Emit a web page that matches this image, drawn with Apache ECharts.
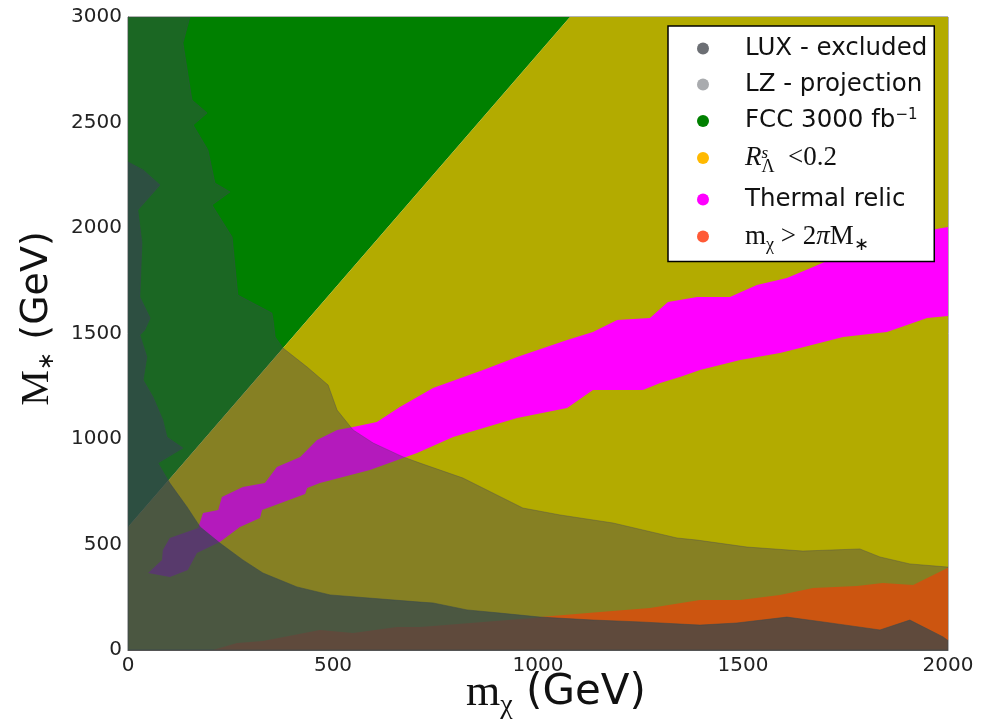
<!DOCTYPE html>
<html><head><meta charset="utf-8">
<script src="https://cdn.jsdelivr.net/npm/echarts@6/dist/echarts.min.js"></script>
<style>html,body{margin:0;padding:0;background:#fff}#c{width:991px;height:725px}</style>
</head><body><div id="c"></div>
<script>
// ---- data (GeV) ----
const xTicks = [0, 500, 1000, 1500, 2000];
const yTicks = [0, 500, 1000, 1500, 2000, 2500, 3000];
const seriesNames = ['LUX - excluded', 'LZ - projection', 'FCC 3000 fb-1', 'R_Lambda^s < 0.2', 'Thermal relic', 'm_chi > 2 pi M_*'];

// FCC 3000 fb^-1 reach (above the diagonal)
const fccRegion = [[0, 583], [1078, 3000], [0, 3000]];
// R_Lambda^s < 0.2 (below the diagonal)
const rLambdaRegion = [[0, 0], [0, 583], [1078, 3000], [2000, 3000], [2000, 0]];
// Thermal relic band
const thermalUpper = [[49,365],[83,427],[85,474],[102,531],[171,578],[183,649],[220,664],[229,725],[280,773],[334,791],[363,867],[420,915],[461,995],[510,1043],[549,1057],[607,1081],[663,1152],[744,1242],[866,1327],[949,1389],[1071,1469],[1134,1507],[1193,1564],[1273,1573],[1317,1649],[1388,1673],[1468,1673],[1534,1730],[1607,1763],[1671,1815],[1737,1872],[1802,1929],[1915,1976],[2000,2005]];
const thermalLower = [[49,365],[102,346],[146,379],[168,460],[224,512],[273,583],[322,626],[327,664],[432,739],[437,768],[468,791],[590,853],[671,910],[705,934],[793,1009],[949,1100],[1071,1147],[1134,1232],[1256,1232],[1298,1265],[1346,1294],[1395,1327],[1493,1374],[1590,1408],[1639,1431],[1744,1483],[1851,1507],[1949,1573],[2000,1583]];
// LZ projection boundary (excluded to the left / below)
const lzBoundary = [[151,3000],[134,2877],[156,2607],[193,2545],[159,2488],[195,2370],[212,2213],[249,2171],[205,2109],[254,1957],[268,1682],[351,1597],[354,1564],[359,1483],[378,1431],[437,1341],[488,1256],[510,1137],[549,1043],[598,981],[671,915],[712,886],[817,815],[963,673],[1054,640],[1183,602],[1339,531],[1388,521],[1510,488],[1646,469],[1785,479],[1834,441],[1907,408],[2000,393]];
// LUX excluded boundary
const luxBoundary = [[0,2313],[37,2275],[78,2204],[24,2085],[34,1929],[29,1673],[54,1573],[41,1517],[29,1493],[46,1389],[37,1280],[61,1199],[85,1090],[95,1009],[134,957],[73,886],[102,791],[144,678],[176,583],[224,507],[280,427],[329,365],[412,299],[493,261],[712,227],[744,223],[827,190],[907,175],[1005,156],[1134,142],[1249,133],[1395,118],[1485,128],[1607,156],[1695,133],[1834,95],[1907,142],[1988,62],[2000,45]];
// m_chi > 2 pi M_* boundary
const massBoundary = [[207,0],[266,33],[329,43],[468,95],[549,81],[656,109],[712,109],[744,114],[866,133],[988,152],[1005,156],[1151,180],[1273,199],[1395,237],[1493,237],[1590,261],[1671,294],[1778,303],[1841,318],[1915,308],[2000,390]];

// ---- polygons built from the data ----
const thermalRegion = thermalUpper.concat(thermalLower.slice(1).reverse());
const lzRegion = [[0, 3000]].concat(lzBoundary, [[2000, 0], [0, 0]]);
const luxRegion = luxBoundary.concat([[2000, 0], [0, 0]]);
const massRegion = massBoundary.concat([[2000, 0]]);

function polySeries(name, pts, fill, legendColor, z, stroke) {
  return {
    type: 'custom', name: name, z: z, clip: true, silent: true,
    coordinateSystem: 'cartesian2d',
    itemStyle: { color: legendColor },
    data: pts,
    renderItem: function (params, api) {
      if (params.dataIndex !== 0) return null;
      return {
        type: 'polygon',
        shape: { points: pts.map(function (p) { return api.coord(p); }) },
        style: { fill: fill, stroke: stroke || null, lineWidth: stroke ? 1 : 0 }
      };
    }
  };
}

const sans = 'DejaVu Sans';
const serif = 'Liberation Serif';
const legendFmt = {
  'LUX - excluded': '{sp|}{t|LUX - excluded}',
  'LZ - projection': '{sp|}{t|LZ - projection}',
  'FCC 3000 fb-1': '{sp|}{t|FCC 3000 fb}{sup|−1}',
  'R_Lambda^s < 0.2': '{sp|}{mi|R}{msup0|s}{msub|Λ}{m|  <0.2}',
  'Thermal relic': '{sp|}{t|Thermal relic}',
  'm_chi > 2 pi M_*': '{sp|}{m|m}{msub|χ}{m| > 2}{mi|π}{m|M}{msub|∗}'
};

const chart = echarts.init(document.getElementById('c'));
chart.setOption({
  animation: false,
  backgroundColor: '#ffffff',
  grid: { left: 128, right: 43, top: 17, bottom: 75, show: true, borderColor: '#666', borderWidth: 1, containLabel: false, outerBoundsMode: 'none' },
  xAxis: {
    type: 'value', min: xTicks[0], max: xTicks[xTicks.length - 1], interval: 500,
    axisLine: { show: true, lineStyle: { color: '#555', width: 1 } },
    axisTick: { show: false }, splitLine: { show: false },
    axisLabel: { fontFamily: sans, fontSize: 20, color: '#222', margin: 6, formatter: function (v) { return String(v); } },
    name: '{m|m}{sub|χ}{g| (GeV)}', nameLocation: 'middle', nameGap: 20, nameMoveOverlap: false,
    nameTextStyle: { padding: [0, 0, 0, 36], rich: {
      m: { fontFamily: serif, fontSize: 44, color: '#111', lineHeight: 46 },
      sub: { fontFamily: serif, fontSize: 28, color: '#111', verticalAlign: 'bottom', lineHeight: 28, padding: [0, 0, -4, 0] },
      g: { fontFamily: sans, fontSize: 42, color: '#111', lineHeight: 46 }
    } }
  },
  yAxis: {
    type: 'value', min: yTicks[0], max: yTicks[yTicks.length - 1], interval: 500,
    axisLine: { show: true, lineStyle: { color: '#555', width: 1 } },
    axisTick: { show: false }, splitLine: { show: false },
    axisLabel: { fontFamily: sans, fontSize: 20, color: '#222', margin: 6, formatter: function (v) { return String(v); } },
    name: '{m|M}{sub|∗}{g| (GeV)}', nameLocation: 'middle', nameGap: 70, nameRotate: 90,
    nameTextStyle: { padding: [0, 0, 0, 30], rich: {
      m: { fontFamily: serif, fontSize: 40, color: '#111', lineHeight: 42 },
      sub: { fontFamily: sans, fontSize: 22, color: '#111', verticalAlign: 'bottom', lineHeight: 22 },
      g: { fontFamily: sans, fontSize: 38, color: '#111', lineHeight: 42 }
    } }
  },
  legend: {
    orient: 'vertical', left: 668, top: 26, padding: [10, 7, 7, 29],
    itemWidth: 12, itemHeight: 12, itemGap: 11, icon: 'circle',
    selectedMode: false, backgroundColor: '#ffffff', borderColor: '#000', borderWidth: 1.5, borderRadius: 0,
    data: seriesNames.map(function (n) { return { name: n, icon: 'circle' }; }),
    formatter: function (n) { return legendFmt[n]; },
    textStyle: { color: '#111', rich: {
      sp: { width: 31, lineHeight: 26 },
      t: { fontFamily: sans, fontSize: 24.5, color: '#111', lineHeight: 26 },
      sup: { fontFamily: sans, fontSize: 15, color: '#111', verticalAlign: 'top', lineHeight: 12 },
      m: { fontFamily: serif, fontSize: 27, color: '#111', lineHeight: 22 },
      mi: { fontFamily: serif, fontSize: 27, fontStyle: 'italic', color: '#111', lineHeight: 22 },
      msub: { fontFamily: serif, fontSize: 18, color: '#111', verticalAlign: 'bottom', lineHeight: 14, padding: [0, 0, -5, 0] },
      msup0: { fontFamily: serif, fontSize: 17, fontStyle: 'italic', color: '#111', verticalAlign: 'top', lineHeight: 10, width: 0 }
    } }
  },
  series: [
    polySeries(seriesNames[0], luxRegion, 'rgba(53,71,78,0.72)', '#6c6f74', 6, 'rgba(53,71,78,0.5)'),
    polySeries(seriesNames[1], lzRegion, 'rgba(67,66,88,0.4)', '#a9abae', 4, 'rgba(67,66,88,0.35)'),
    polySeries(seriesNames[2], fccRegion, '#008000', '#008000', 1),
    polySeries(seriesNames[3], rLambdaRegion, '#b3ab00', '#ffb900', 2),
    polySeries(seriesNames[4], thermalRegion, '#ff00ff', '#ff00ff', 3),
    polySeries(seriesNames[5], massRegion, '#cc5510', '#ff5a36', 5)
  ]
});
</script></body></html>
